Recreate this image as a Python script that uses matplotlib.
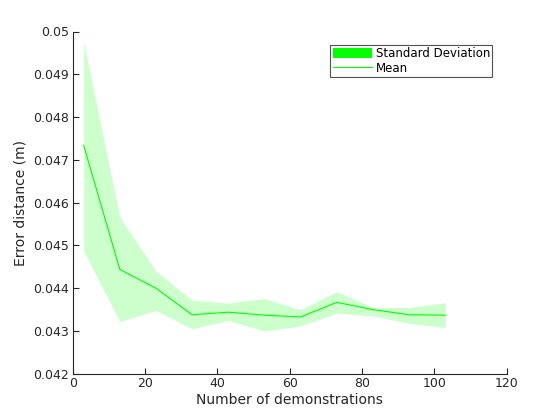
import matplotlib
matplotlib.use("Agg")
import matplotlib.pyplot as plt
from matplotlib.patches import Patch
from matplotlib.lines import Line2D

demos = [3, 13, 23, 33, 43, 53, 63, 73, 83, 93, 103]
mean_err = [0.04734, 0.04444, 0.04400, 0.04338, 0.04344, 0.04337, 0.04333, 0.04367, 0.04350, 0.04338, 0.04337]
upper = [0.04975, 0.04566, 0.04440, 0.04372, 0.04365, 0.04376, 0.04350, 0.04392, 0.04355, 0.04355, 0.04366]
lower = [0.04487, 0.04322, 0.04348, 0.04305, 0.04325, 0.04300, 0.04312, 0.04342, 0.04335, 0.04318, 0.04308]

xticks = [0, 20, 40, 60, 80, 100, 120]
yticks = [0.042, 0.043, 0.044, 0.045, 0.046, 0.047, 0.048, 0.049, 0.05]
ytick_labels = ["0.042", "0.043", "0.044", "0.045", "0.046", "0.047", "0.048", "0.049", "0.05"]

plt.rcParams['font.family'] = ['DejaVu Sans']
fig = plt.figure(figsize=(5.6, 4.2), dpi=100)
ax = fig.add_axes([0.13, 0.11, 0.775, 0.815])

ax.fill_between(demos, lower, upper, color='#ccffcc', linewidth=0)
ax.plot(demos, mean_err, color='#00ff00', linewidth=0.8)

ax.set_xlim(0, 120)
ax.set_ylim(0.042, 0.05)
ax.set_xticks(xticks)
ax.set_yticks(yticks)
ax.set_yticklabels(ytick_labels)
for s in ['top', 'right']:
    ax.spines[s].set_visible(False)
for s in ['left', 'bottom']:
    ax.spines[s].set_color('#262626')
    ax.spines[s].set_linewidth(0.8)
ax.tick_params(direction='in', length=4, width=0.8, colors='#262626', labelsize=9,
               labelcolor='#262626', pad=2.5)
ax.set_xlabel('Number of demonstrations', fontsize=10, color='#262626', labelpad=2)
ax.set_ylabel('Error distance (m)', fontsize=10, color='#262626')

handles = [Patch(facecolor='#00ff00', edgecolor='none'),
           Line2D([0], [0], color='#00ff00', linewidth=0.8)]
leg = ax.legend(handles, ['Standard Deviation', 'Mean'], loc='upper right',
                bbox_to_anchor=(0.967, 0.962), fontsize=8.5, frameon=True, fancybox=False,
                edgecolor='#262626', borderpad=0.2, handlelength=3.3, handleheight=0.9,
                handletextpad=0.35, labelspacing=0.15, borderaxespad=0)
leg.get_frame().set_linewidth(0.8)

fig.savefig('out.png', dpi=100)
